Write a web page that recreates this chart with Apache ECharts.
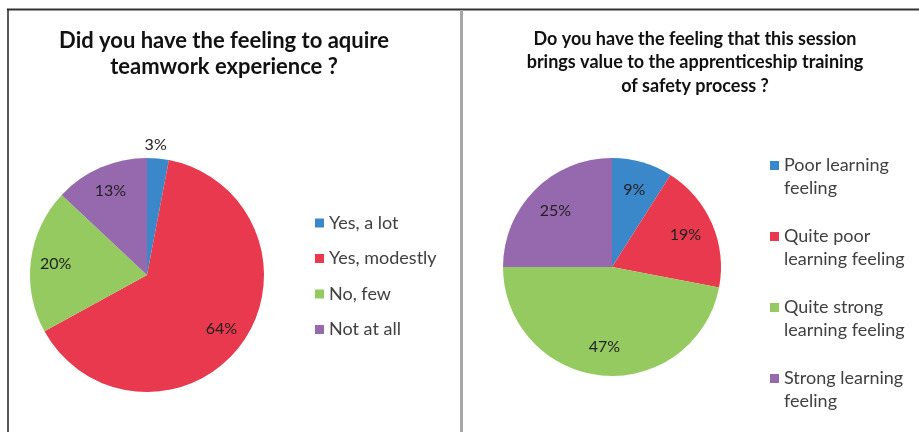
<!DOCTYPE html>
<html>
<head>
<meta charset="utf-8">
<script src="https://cdn.jsdelivr.net/npm/echarts@6/dist/echarts.min.js"></script>
<style>
  html, body { margin: 0; padding: 0; background: #fff; }
  #chart { width: 919px; height: 432px; }
</style>
</head>
<body>
<div id="chart"></div>
<script>
// Survey answers, percent of respondents
const teamworkNames = ["Yes, a lot", "Yes, modestly", "No, few", "Not at all"];
const teamworkValues = [3, 64, 20, 13];

const valueNames = [
  "Poor learning feeling",
  "Quite poor learning feeling",
  "Quite strong learning feeling",
  "Strong learning feeling"
];
// legend wraps onto two lines (leading blank line keeps the key beside line 1)
const valueLegendText = [
  "\nPoor learning\nfeeling",
  "\nQuite poor\nlearning feeling",
  "\nQuite strong\nlearning feeling",
  "\nStrong learning\nfeeling"
];
const valueValues = [9, 19, 47, 25];

// Excel-like palette (blue, red, green, purple)
const COLORS = ["#3a88c9", "#e8394e", "#94ca60", "#9668ad"];
const FONT = "Lato";

function pieData(names, values) {
  return names.map((n, i) => ({
    name: n,
    value: values[i],
    itemStyle: { color: COLORS[i] }
  }));
}

// transparent ring that only carries the labels (pushes them outward)
function labelData(names, values, smallIdx) {
  return names.map((n, i) => {
    const d = { name: n, value: values[i] };
    if (i === smallIdx) {
      // tiny slice: trailing blank lines lift the label above the pie
      d.label = { formatter: "{c}%\n\n\n\n\n", lineHeight: 15.6 };
    }
    return d;
  });
}

const chart = echarts.init(document.getElementById("chart"), null, { renderer: "canvas" });

chart.setOption({
  animation: false,
  backgroundColor: "#fff",
  title: [
    {
      text: "Did you have the feeling to aquire\nteamwork experience ?",
      left: 224,
      top: 28,
      padding: 0,
      textAlign: "center",
      textStyle: { fontFamily: FONT, fontSize: 22, fontWeight: "bold", color: "#111", lineHeight: 26 }
    },
    {
      text: "Do you have the feeling that this session\nbrings value to the apprenticeship training\nof safety process ?",
      left: 695,
      top: 27,
      padding: 0,
      textAlign: "center",
      textStyle: { fontFamily: FONT, fontSize: 18, fontWeight: "bold", color: "#111", lineHeight: 23.5 }
    }
  ],
  legend: [
    {
      orient: "vertical",
      left: 315,
      top: 214,
      padding: 0,
      icon: "rect",
      itemWidth: 9,
      itemHeight: 9,
      itemGap: 17.5,
      data: teamworkNames,
      textStyle: { fontFamily: FONT, fontSize: 18, color: "#404040", lineHeight: 18 }
    },
    {
      orient: "vertical",
      left: 770,
      top: 131,
      padding: 0,
      icon: "rect",
      itemWidth: 9,
      itemHeight: 9,
      itemGap: 2,
      data: valueNames,
      formatter: name => valueLegendText[valueNames.indexOf(name)],
      textStyle: { fontFamily: FONT, fontSize: 18, color: "#404040", lineHeight: 23 }
    }
  ],
  graphic: [
    { type: "line", shape: { x1: 7, y1: 9.5, x2: 919, y2: 9.5 }, style: { stroke: "#333", lineWidth: 2 } },
    { type: "line", shape: { x1: 8, y1: 9, x2: 8, y2: 432 }, style: { stroke: "#222", lineWidth: 1.5 } },
    { type: "line", shape: { x1: 461.5, y1: 10, x2: 461.5, y2: 432 }, style: { stroke: "#a6a6a6", lineWidth: 3 } }
  ],
  series: [
    {
      type: "pie",
      center: [147, 275],
      radius: [0, 117],
      startAngle: 90,
      clockwise: true,
      label: { show: false },
      labelLine: { show: false },
      data: pieData(teamworkNames, teamworkValues)
    },
    {
      type: "pie",
      center: [612, 267],
      radius: [0, 109],
      startAngle: 90,
      clockwise: true,
      label: { show: false },
      labelLine: { show: false },
      data: pieData(valueNames, valueValues)
    },
    {
      type: "pie",
      center: [147, 275],
      radius: [61, 117],
      startAngle: 90,
      silent: true,
      legendHoverLink: false,
      itemStyle: { color: "rgba(0,0,0,0)" },
      label: { show: true, position: "inside", formatter: "{c}%", fontFamily: FONT, fontSize: 16, color: "#222" },
      labelLine: { show: false },
      data: labelData(teamworkNames, teamworkValues, 0)
    },
    {
      type: "pie",
      center: [612, 267],
      radius: [45, 109],
      startAngle: 90,
      silent: true,
      legendHoverLink: false,
      itemStyle: { color: "rgba(0,0,0,0)" },
      label: { show: true, position: "inside", formatter: "{c}%", fontFamily: FONT, fontSize: 16, color: "#222" },
      labelLine: { show: false },
      data: labelData(valueNames, valueValues, -1)
    }
  ]
});
</script>
</body>
</html>
